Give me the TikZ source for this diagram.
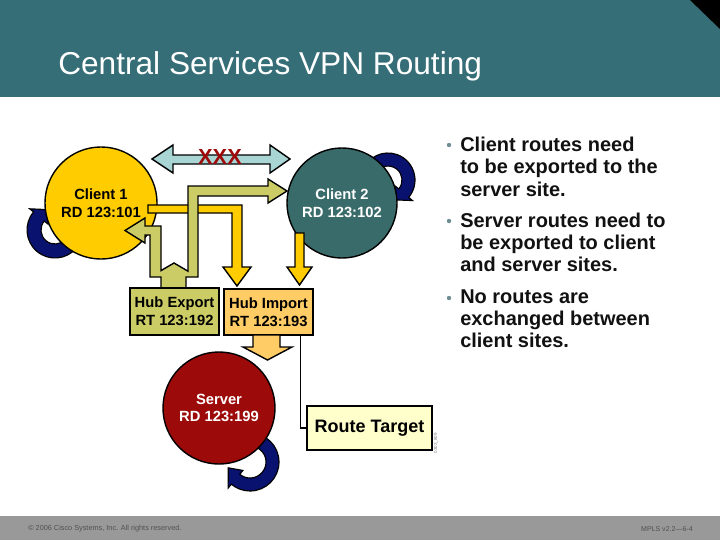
\documentclass[tikz,border=0pt]{standalone}
\usepackage{fontspec}
\setmainfont{Liberation Sans}
\usetikzlibrary{positioning,calc}
\definecolor{headc}{HTML}{356E77}
\definecolor{footc}{HTML}{999999}
\definecolor{foottextc}{HTML}{505050}
\definecolor{client1c}{HTML}{FFCC00}
\definecolor{client2c}{HTML}{3A6B6B}
\definecolor{serverc}{HTML}{9C0A0A}
\definecolor{hubexpc}{HTML}{CCCC66}
\definecolor{hubimpc}{HTML}{FFCC66}
\definecolor{xarrowc}{HTML}{A9D5D5}
\definecolor{rtc}{HTML}{FFFFCC}
\definecolor{loopc}{HTML}{0A1270}
\definecolor{textc}{HTML}{111111}
\definecolor{bulletc}{HTML}{6F8E94}

\tikzset{
  fatarrow/.style={draw=black, line width=1pt, line join=miter},
  site/.style={circle, draw=black, line width=1pt, inner sep=0pt, minimum size=2.8cm,
    align=center, font=\bfseries\fontsize{10.5}{12.6}\selectfont},
  rtbox/.style={rectangle, draw=black, line width=1pt, inner sep=0pt, minimum width=2.225cm,
    minimum height=1.16cm, align=center, font=\bfseries\fontsize{10.5}{12.6}\selectfont},
  pointtxt/.style={anchor=base west, inner sep=0pt, font=\bfseries\fontsize{14.2}{17}\selectfont, text=textc},
}

% self loop: centre x, centre y, inner r, outer r, start angle, end angle
\newcommand{\siteloop}[6]{%
  \begin{scope}[shift={(#1,#2)}]
    \filldraw[fill=loopc, draw=black, line width=0.8pt, line join=miter]
      (#5:#4) arc[start angle=#5, end angle=#6, radius=#4]
      -- ({#6}:{#4+5}) -- ({#6+35}:{(#3+#4)/2}) -- ({#6}:{#3-5}) -- (#6:#3)
      arc[start angle=#6, end angle=#5, radius=#3] -- cycle;
  \end{scope}}

\begin{document}
\begin{tikzpicture}[x=0.025cm,y=-0.025cm]
  \useasboundingbox (0,0) rectangle (720,540);
  % slide frame
  \fill[headc] (0,0) rectangle (720,97);
  \fill[black] (690,0) -- (720,0) -- (720,29) -- cycle;
  \fill[footc] (0,516) rectangle (720,540);
  \node[anchor=base west, inner sep=0pt, text=white, font=\fontsize{22.5}{27}\selectfont] (title) at (58,74) {Central Services VPN Routing};
  \node[anchor=west, inner sep=0pt, text=foottextc, font=\fontsize{5.2}{6}\selectfont] (copy) at (28,529) {© 2006 Cisco Systems, Inc. All rights reserved.};
  \node[anchor=east, inner sep=0pt, text=foottextc, font=\fontsize{5}{6}\selectfont] (course) at (693,529) {MPLS v2.2—6-4};

  % loops behind the sites
  \siteloop{55}{230}{14}{28}{40}{220}
  \siteloop{388}{180}{14}{27}{200}{400}
  \siteloop{250}{462}{16}{29}{-90}{130}

  % sites
  \node[site, fill=client1c] (c1) at (101,203) {Client 1\\RD 123:101};
  \node[site, fill=client2c, text=white, minimum size=2.75cm] (c2) at (342,203) {Client 2\\RD 123:102};
  \node[site, fill=serverc, text=white] (srv) at (219,408) {Server\\RD 123:199};

  % blocked client to client exchange
  \filldraw[fatarrow, fill=xarrowc] (152,159) -- (173,145) -- (173,155) -- (270,155) -- (270,145)
    -- (290,159) -- (270,173) -- (270,164) -- (173,164) -- (173,173) -- cycle;
  \node[text=serverc, font=\bfseries\fontsize{15.5}{18}\selectfont] (xxx) at (220,157) {XXX};

  % client exports
  \filldraw[fatarrow, fill=client1c] (148,205) -- (242,205) -- (242,267) -- (251,267) -- (237,286)
    -- (223,267) -- (232,267) -- (232,213) -- (148,213) -- cycle;
  \filldraw[fatarrow, fill=client1c] (295,233) -- (304,233) -- (304,267) -- (312,267) -- (299.5,285)
    -- (287,267) -- (295,267) -- cycle;

  % hub export to both clients
  \filldraw[fatarrow, fill=hubexpc] (161,288) -- (161,277) -- (150,277) -- (150,235) -- (145,235)
    -- (145,243) -- (125,230.5) -- (145,218) -- (145,226) -- (161,226) -- (161,270.6) -- (174,263)
    -- (188,271.2) -- (188,186) -- (268,186) -- (268,179) -- (287,191) -- (268,203) -- (268,196)
    -- (198,196) -- (198,277) -- (186,277) -- (186,288) -- cycle;

  % route targets
  \node[rtbox, fill=hubexpc, minimum height=1.175cm] (hexp) at (174.5,311.5) {Hub Export\\RT 123:192};
  \node[rtbox, fill=hubimpc, minimum height=1.15cm] (himp) at (268.5,312) {Hub Import\\RT 123:193};

  \filldraw[fatarrow, fill=hubimpc] (253,335) -- (280,335) -- (280,347) -- (292,347) -- (267.5,360)
    -- (243,347) -- (253,347) -- cycle;

  \node[rectangle, draw=black, line width=1pt, fill=rtc, minimum width=3.125cm, minimum height=1.1cm,
    font=\bfseries\fontsize{12.8}{15}\selectfont] (rt) at (369.5,428) {Route Target};
  \draw[line width=0.8pt] ($(himp.south east)+(-13,0)$) |- (rt.west);
  \node[rotate=90, text=gray, inner sep=0pt, font=\fontsize{3.2}{4}\selectfont] (code) at (436,443) {0303\_809};

  % bullet points
  \foreach \yb in {145,221,298}
    \fill[bulletc] (449,\yb) circle[radius=2.2];
  \foreach \yl/\txt [count=\k] in {151/Client routes need, 173.5/to be exported to the, 196/server site.,
      227/Server routes need to, 249/be exported to client, 271.5/and server sites.,
      303/No routes are, 325/exchanged between, 347/client sites.}
    \node[pointtxt] (pt\k) at (460,\yl) {\txt};
\end{tikzpicture}
\end{document}
